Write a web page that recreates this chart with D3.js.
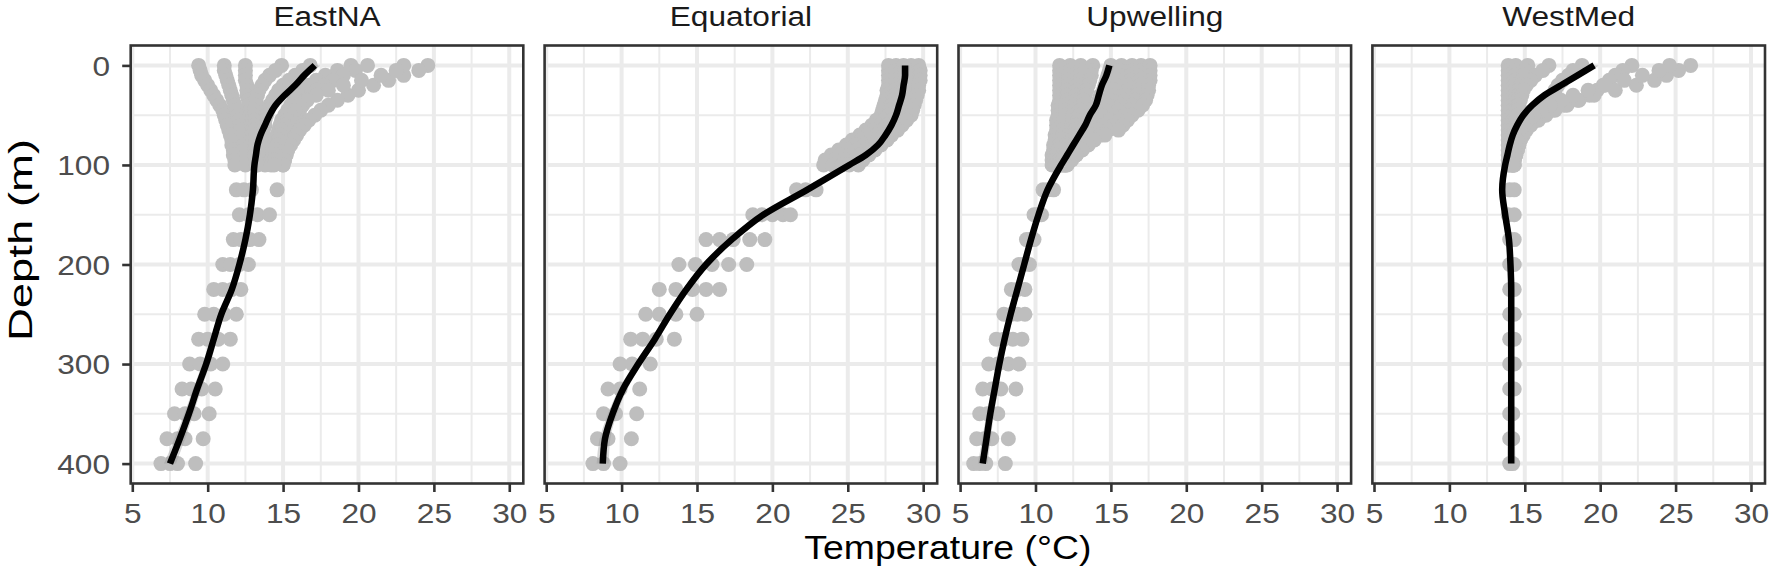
<!DOCTYPE html>
<html>
<head>
<meta charset="utf-8">
<script src="https://cdn.jsdelivr.net/npm/d3@7"></script>
<style>
  html, body { margin: 0; padding: 0; background: #ffffff; }
  svg { display: block; }
</style>
</head>
<body>
<svg id="chart" width="1772" height="583"></svg>
<script>
// ---------------- DATA ----------------
const regions = ["EastNA", "Equatorial", "Upwelling", "WestMed"];
const xTickValues = [5, 10, 15, 20, 25, 30];
const yTickValues = [0, 100, 200, 300, 400];
const xMinorValues = [7.5, 12.5, 17.5, 22.5, 27.5];
const yMinorValues = [50, 150, 250, 350];

const upperDepths = [0, 5, 10, 15, 20, 25, 30, 35, 40, 45, 50, 55, 60, 65, 70, 75, 80, 85, 90, 95, 100];
const deepDepths = [125, 150, 175, 200, 225, 250, 275, 300, 325, 350, 375, 400];
const lineDepths = [0, 10, 20, 30, 40, 50, 60, 70, 80, 90, 100, 125, 150, 175, 200, 225, 250, 275, 300, 325, 350, 375, 400];

// EastNA
const eastnaUpper = [
  [9.4, 9.5, 9.6, 9.8, 10.0, 10.2, 10.4, 10.6, 10.8, 11.0, 11.1, 11.2, 11.3, 11.4, 11.5, 11.6, 11.6, 11.7, 11.7, 11.8, 11.8],
  [11.1, 11.1, 11.2, 11.3, 11.4, 11.5, 11.6, 11.7, 11.8, 11.9, 12.0, 12.1, 12.2, 12.2, 12.3, 12.3, 12.4, 12.4, 12.5, 12.5, 12.5],
  [12.5, 12.5, 12.5, 12.5, 12.6, 12.6, 12.6, 12.7, 12.7, 12.8, 12.8, 12.9, 12.9, 13.0, 13.0, 13.0, 13.1, 13.1, 13.1, 13.2, 13.2],
  [14.9, 14.5, 14.1, 13.8, 13.6, 13.4, 13.3, 13.2, 13.2, 13.1, 13.1, 13.1, 13.1, 13.1, 13.2, 13.2, 13.2, 13.3, 13.3, 13.3, 13.3],
  [16.8, 16.3, 15.8, 15.4, 15.0, 14.7, 14.5, 14.3, 14.1, 14.0, 13.9, 13.8, 13.8, 13.7, 13.7, 13.7, 13.7, 13.7, 13.7, 13.7, 13.8],
  [19.5, 18.6, 17.8, 17.2, 16.7, 16.3, 16.0, 15.7, 15.5, 15.3, 15.1, 14.9, 14.8, 14.7, 14.6, 14.5, 14.4, 14.3, 14.3, 14.2, 14.2],
  [20.6, 19.8, 19.0, 18.3, 17.7, 17.2, 16.8, 16.5, 16.3, 16.1, 16.0, 15.9, 15.8, 15.7, 15.6, 15.5, 15.4, 15.3, 15.2, 15.1, 15.0],
  [24.6, 24.0, 23.0, 22.0, 21.0, 20.0, 19.3, 18.6, 18.0, 17.5, 17.1, 16.7, 16.4, 16.1, 15.9, 15.7, 15.5, 15.3, 15.2, 15.1, 15.0],
  [23.0, 22.5, 21.5, 20.2, 19.0, 18.0, 17.2, 16.6, 16.1, 15.8, 15.5, 15.3, 15.1, 14.9, 14.8, 14.7, 14.6, 14.5, 14.5, 14.4, 14.4]
];
const eastnaDeep = [
  [11.9, 12.4, 12.9, 14.6],
  [12.1, 12.7, 13.3, 14.1],
  [11.7, 12.2, 12.8, 13.4],
  [11.0, 11.5, 12.1, 12.7],
  [10.4, 11.0, 11.6, 12.2],
  [9.8, 10.4, 11.1, 11.9],
  [9.4, 10.0, 10.7, 11.5],
  [8.8, 9.5, 10.2, 11.0],
  [8.3, 8.9, 9.6, 10.5],
  [7.8, 8.5, 9.1, 10.1],
  [7.3, 8.0, 8.5, 9.7],
  [6.9, 7.5, 8.0, 9.2]
];
const eastnaLine = [17.1, 16.4, 15.8, 15.1, 14.5, 14.1, 13.8, 13.5, 13.3, 13.2, 13.1, 13.0, 12.8, 12.5, 12.1, 11.6, 10.9, 10.4, 9.9, 9.3, 8.75, 8.15, 7.5];
const eastnaBand = [0.35, 0.3, 0.25, 0.2, 0.2, 0.2, 0.2, 0.2, 0.2, 0.2, 0.2, 0.2, 0.2, 0.2, 0.2, 0.2, 0.2, 0.22, 0.25, 0.28, 0.3, 0.35, 0.4];

// Equatorial
const equatorialUpper = [
  [27.7, 27.7, 27.7, 27.7, 27.7, 27.6, 27.6, 27.5, 27.4, 27.3, 27.2, 26.9, 26.6, 26.2, 25.8, 25.3, 24.9, 24.4, 23.9, 23.5, 23.4],
  [28.2, 28.2, 28.2, 28.2, 28.2, 28.1, 28.1, 28.0, 27.9, 27.8, 27.7, 27.4, 27.1, 26.7, 26.3, 25.9, 25.5, 25.0, 24.5, 24.1, 24.0],
  [28.7, 28.8, 28.8, 28.8, 28.7, 28.7, 28.6, 28.5, 28.4, 28.3, 28.2, 27.9, 27.6, 27.3, 26.9, 26.5, 26.1, 25.6, 25.2, 24.8, 24.6],
  [29.2, 29.3, 29.3, 29.3, 29.2, 29.2, 29.1, 29.0, 28.9, 28.8, 28.7, 28.4, 28.1, 27.8, 27.4, 27.0, 26.6, 26.2, 25.8, 25.4, 25.1],
  [29.7, 29.8, 29.8, 29.8, 29.7, 29.7, 29.6, 29.5, 29.4, 29.3, 29.2, 28.9, 28.6, 28.3, 27.9, 27.6, 27.2, 26.8, 26.4, 26.0, 25.7]
];
const equatorialDeep = [
  [21.6, 22.2, 22.9],
  [18.7, 19.3, 20.0, 20.7, 21.2],
  [15.6, 16.5, 17.4, 18.5, 19.5],
  [13.8, 14.9, 16.0, 17.1, 18.3],
  [12.5, 13.6, 14.7, 15.6, 16.5],
  [11.6, 12.5, 13.6, 15.0],
  [10.6, 11.4, 12.3, 13.5],
  [9.9, 10.7, 11.9],
  [9.1, 9.9, 11.2],
  [8.8, 9.6, 11.0],
  [8.4, 9.1, 10.65],
  [8.1, 8.8, 9.9]
];
const equatorialLine = [28.8, 28.8, 28.7, 28.6, 28.4, 28.2, 27.9, 27.5, 27.0, 26.2, 25.1, 22.3, 19.4, 17.3, 15.6, 14.3, 13.2, 12.2, 11.1, 10.1, 9.4, 8.9, 8.75];
const equatorialBand = [0.3, 0.25, 0.2, 0.2, 0.2, 0.2, 0.2, 0.2, 0.2, 0.2, 0.2, 0.25, 0.25, 0.25, 0.25, 0.25, 0.25, 0.25, 0.25, 0.28, 0.3, 0.35, 0.4];

// Upwelling
const upwellingUpper = [
  [11.6, 11.6, 11.6, 11.6, 11.6, 11.6, 11.6, 11.6, 11.5, 11.5, 11.5, 11.4, 11.4, 11.4, 11.3, 11.3, 11.2, 11.2, 11.1, 11.1, 11.1],
  [12.3, 12.3, 12.2, 12.2, 12.2, 12.1, 12.1, 12.1, 12.0, 12.0, 12.0, 11.9, 11.9, 11.8, 11.8, 11.7, 11.6, 11.5, 11.4, 11.3, 11.3],
  [13.0, 13.0, 12.9, 12.9, 12.8, 12.8, 12.7, 12.7, 12.6, 12.6, 12.5, 12.5, 12.4, 12.3, 12.2, 12.1, 12.0, 11.9, 11.8, 11.6, 11.5],
  [13.8, 13.7, 13.7, 13.6, 13.5, 13.4, 13.3, 13.2, 13.1, 13.0, 12.9, 12.8, 12.7, 12.6, 12.5, 12.4, 12.2, 12.1, 12.0, 11.8, 11.7],
  [15.0, 14.9, 14.8, 14.7, 14.6, 14.5, 14.3, 14.2, 14.0, 13.9, 13.7, 13.5, 13.3, 13.1, 12.9, 12.7, 12.5, 12.3, 12.1, 11.9, 11.8],
  [15.7, 15.6, 15.6, 15.5, 15.4, 15.3, 15.2, 15.0, 14.8, 14.6, 14.4, 14.1, 13.8, 13.5, 13.2, 13.0, 12.7, 12.5, 12.3, 12.1, 11.9],
  [16.4, 16.4, 16.3, 16.3, 16.2, 16.1, 16.0, 15.9, 15.7, 15.5, 15.2, 14.9, 14.5, 14.1, 13.7, 13.3, 13.0, 12.7, 12.5, 12.2, 12.0],
  [17.0, 17.0, 17.0, 16.9, 16.9, 16.8, 16.7, 16.6, 16.4, 16.2, 15.9, 15.6, 15.2, 14.8, 14.3, 13.8, 13.4, 13.0, 12.7, 12.4, 12.1],
  [17.6, 17.6, 17.6, 17.6, 17.5, 17.5, 17.4, 17.3, 17.1, 16.8, 16.4, 16.1, 15.8, 15.5, 14.6, 13.9, 13.5, 13.1, 12.7, 12.3, 12.0]
];
const upwellingDeep = [
  [10.5, 10.8, 11.2],
  [9.9, 10.1, 10.4],
  [9.4, 9.6, 9.9],
  [8.9, 9.2, 9.6],
  [8.4, 8.8, 9.3],
  [7.9, 8.4, 8.8, 9.3],
  [7.4, 7.9, 8.5, 9.1],
  [6.9, 7.5, 8.2, 8.9],
  [6.5, 7.1, 7.7, 8.7],
  [6.3, 6.8, 7.5],
  [6.1, 6.6, 7.1, 8.2],
  [5.9, 6.3, 6.7, 8.0]
];
const upwellingLine = [14.9, 14.7, 14.4, 14.2, 14.0, 13.6, 13.3, 12.9, 12.5, 12.1, 11.7, 10.8, 10.2, 9.7, 9.25, 8.8, 8.35, 7.95, 7.6, 7.3, 7.0, 6.75, 6.5];
const upwellingBand = [0.3, 0.25, 0.2, 0.2, 0.2, 0.2, 0.2, 0.2, 0.2, 0.2, 0.2, 0.2, 0.2, 0.2, 0.2, 0.2, 0.2, 0.2, 0.2, 0.22, 0.25, 0.28, 0.32];

// WestMed
const westmedUpper = [
  [13.9, 13.9, 13.9, 13.9, 13.9, 13.9, 13.9, 13.9, 13.9, 13.9, 13.9, 13.9, 13.9, 13.9, 13.9, 13.9, 13.9, 13.9, 13.9, 13.9, 13.9],
  [14.4, 14.4, 14.4, 14.4, 14.3, 14.3, 14.3, 14.3, 14.2, 14.2, 14.2, 14.2, 14.1, 14.1, 14.1, 14.1, 14.0, 14.0, 14.0, 14.0, 14.0],
  [15.2, 15.0, 14.9, 14.8, 14.7, 14.6, 14.6, 14.5, 14.5, 14.4, 14.4, 14.3, 14.3, 14.3, 14.2, 14.2, 14.2, 14.1, 14.1, 14.1, 14.1],
  [16.6, 16.2, 15.7, 15.4, 15.1, 14.9, 14.8, 14.7, 14.6, 14.5, 14.5, 14.4, 14.4, 14.4, 14.3, 14.3, 14.3, 14.2, 14.2, 14.2, 14.2],
  [18.8, 18.2, 17.9, 17.5, 17.2, 17.0, 16.8, 16.5, 16.2, 15.9, 15.6, 15.3, 15.1, 14.9, 14.8, 14.7, 14.6, 14.5, 14.4, 14.3, 14.3],
  [22.1, 21.5, 21.0, 20.6, 20.2, 19.8, 19.3, 18.6, 17.8, 17.0, 16.4, 15.9, 15.4, 15.1, 14.9, 14.7, 14.6, 14.5, 14.4, 14.3, 14.3],
  [26.0, 25.2, 24.4, 23.6, 22.4, 21.0, 19.6, 18.5, 17.6, 16.8, 16.2, 15.7, 15.3, 15.0, 14.8, 14.7, 14.6, 14.5, 14.4, 14.3, 14.2],
  [24.6, 23.9, 22.8, 21.6, 20.3, 19.2, 18.2, 17.4, 16.7, 16.1, 15.6, 15.2, 14.9, 14.7, 14.6, 14.5, 14.4, 14.3, 14.3, 14.2, 14.2]
];
const westmedDeep = [
  [14.0, 14.3],
  [13.9, 14.3],
  [14.0, 14.3],
  [14.0, 14.3],
  [14.0, 14.3],
  [14.0, 14.3],
  [14.0, 14.3],
  [14.0, 14.3],
  [14.0, 14.3],
  [14.0, 14.2],
  [14.0, 14.2],
  [14.0, 14.2]
];
const westmedLine = [19.6, 18.5, 17.4, 16.3, 15.5, 14.9, 14.5, 14.2, 14.0, 13.85, 13.7, 13.5, 13.7, 13.95, 14.05, 14.1, 14.1, 14.1, 14.1, 14.1, 14.1, 14.1, 14.1];
const westmedBand = [0.3, 0.25, 0.2, 0.2, 0.2, 0.2, 0.2, 0.2, 0.2, 0.2, 0.2, 0.2, 0.2, 0.2, 0.2, 0.2, 0.2, 0.2, 0.2, 0.2, 0.22, 0.25, 0.28];

// ---------------- LAYOUT / STYLE ----------------
const FONT = "'Liberation Sans', Arial, Helvetica, sans-serif";
const panelW = 392.6;
const firstLeft = 130.7;
const panelStep = 413.9;
const panelTop = 45.5;
const panelBottom = 483.5;
const tickLen = 8.5;
const textSX = 1.15;     // horizontal stretch of text as in reference
const tickFont = 27.5;
const titleFont = 32.5;

const svg = d3.select("#chart");
svg.append("rect").attr("width", 1772).attr("height", 583).attr("fill", "#ffffff");

const x = d3.scaleLinear().domain([4.894, 30.93]).range([0, panelW]);
const y = d3.scaleLinear().domain([-20, 420]).range([panelTop, panelBottom]);

const panelData = [
  { upper: eastnaUpper, deep: eastnaDeep, line: eastnaLine, band: eastnaBand },
  { upper: equatorialUpper, deep: equatorialDeep, line: equatorialLine, band: equatorialBand },
  { upper: upwellingUpper, deep: upwellingDeep, line: upwellingLine, band: upwellingBand },
  { upper: westmedUpper, deep: westmedDeep, line: westmedLine, band: westmedBand }
];

const lineGen = d3.line()
  .x(d => x(d.t))
  .y(d => y(d.d))
  .curve(d3.curveMonotoneY);
const areaGen = d3.area()
  .x0(d => x(d.t - d.b))
  .x1(d => x(d.t + d.b))
  .y(d => y(d.d))
  .curve(d3.curveMonotoneY);

function stretchText(sel, sx) {
  sel.each(function () {
    const t = d3.select(this);
    const tx = +t.attr("x") || 0;
    const ty = +t.attr("y") || 0;
    t.attr("x", 0).attr("y", 0)
     .attr("transform", `translate(${tx},${ty}) scale(${sx},1)`);
  });
}

regions.forEach((name, i) => {
  const left = firstLeft + i * panelStep;
  const pd = panelData[i];
  const g = svg.append("g").attr("transform", `translate(${left},0)`);

  g.append("rect").attr("x", 0).attr("y", panelTop)
    .attr("width", panelW).attr("height", panelBottom - panelTop)
    .attr("fill", "#ffffff");

  // minor grid
  g.append("g").selectAll("line").data(xMinorValues).join("line")
    .attr("x1", d => x(d)).attr("x2", d => x(d))
    .attr("y1", panelTop).attr("y2", panelBottom)
    .attr("stroke", "#EBEBEB").attr("stroke-width", 2);
  g.append("g").selectAll("line").data(yMinorValues).join("line")
    .attr("x1", 0).attr("x2", panelW)
    .attr("y1", d => y(d)).attr("y2", d => y(d))
    .attr("stroke", "#EBEBEB").attr("stroke-width", 2);
  // major grid
  g.append("g").selectAll("line").data(xTickValues).join("line")
    .attr("x1", d => x(d)).attr("x2", d => x(d))
    .attr("y1", panelTop).attr("y2", panelBottom)
    .attr("stroke", "#EBEBEB").attr("stroke-width", 4);
  g.append("g").selectAll("line").data(yTickValues).join("line")
    .attr("x1", 0).attr("x2", panelW)
    .attr("y1", d => y(d)).attr("y2", d => y(d))
    .attr("stroke", "#EBEBEB").attr("stroke-width", 4);

  // points
  const pts = [];
  pd.upper.forEach(profile => profile.forEach((t, j) => pts.push({ t, d: upperDepths[j] })));
  pd.deep.forEach((row, k) => row.forEach(t => pts.push({ t, d: deepDepths[k] })));
  g.append("g").selectAll("circle").data(pts).join("circle")
    .attr("cx", d => x(d.t)).attr("cy", d => y(d.d)).attr("r", 7.5)
    .attr("fill", "#BEBEBE");

  // smooth fit + ribbon
  const fit = lineDepths.map((d, k) => ({ d, t: pd.line[k], b: pd.band[k] }));
  g.append("path").datum(fit).attr("d", areaGen)
    .attr("fill", "#999999").attr("fill-opacity", 0.4);
  g.append("path").datum(fit).attr("d", lineGen)
    .attr("fill", "none").attr("stroke", "#000000").attr("stroke-width", 6.5);

  // border
  g.append("rect").attr("x", 0).attr("y", panelTop)
    .attr("width", panelW).attr("height", panelBottom - panelTop)
    .attr("fill", "none").attr("stroke", "#333333").attr("stroke-width", 2.6);

  // x axis
  const xAxis = g.append("g").attr("transform", `translate(0,${panelBottom})`)
    .call(d3.axisBottom(x).tickValues(xTickValues).tickSize(tickLen).tickSizeOuter(0));
  xAxis.select(".domain").remove();
  xAxis.selectAll(".tick line").attr("stroke", "#333333").attr("stroke-width", 2.6);
  xAxis.selectAll(".tick text")
    .attr("y", 523 - panelBottom).attr("dy", 0)
    .attr("fill", "#4D4D4D").style("font-family", FONT).style("font-size", tickFont + "px")
    .attr("text-anchor", "middle")
    .call(stretchText, textSX);

  // strip title
  g.append("text")
    .attr("x", panelW / 2).attr("y", 26)
    .attr("text-anchor", "middle")
    .attr("fill", "#1A1A1A").style("font-family", FONT).style("font-size", tickFont + "px")
    .text(name)
    .call(stretchText, textSX);

  // y axis on the first panel only
  if (i === 0) {
    const yAxis = g.append("g")
      .call(d3.axisLeft(y).tickValues(yTickValues).tickSize(tickLen).tickSizeOuter(0));
    yAxis.select(".domain").remove();
    yAxis.selectAll(".tick line").attr("stroke", "#333333").attr("stroke-width", 2.6);
    yAxis.selectAll(".tick text")
      .attr("x", -(left - 110)).attr("dy", "0.36em")
      .attr("fill", "#4D4D4D").style("font-family", FONT).style("font-size", tickFont + "px")
      .attr("text-anchor", "end")
      .call(stretchText, textSX);
  }
});

// axis titles
const xCenter = firstLeft + (3 * panelStep + panelW) / 2;
svg.append("text")
  .attr("transform", `translate(${xCenter},558.5) scale(${textSX},1)`)
  .attr("text-anchor", "middle")
  .attr("fill", "#000000").style("font-family", FONT).style("font-size", titleFont + "px")
  .text("Temperature (°C)");

svg.append("text")
  .attr("transform", `translate(31.5,240) rotate(-90) scale(1.4,1)`)
  .attr("text-anchor", "middle")
  .attr("fill", "#000000").style("font-family", FONT).style("font-size", titleFont + "px")
  .text("Depth (m)");
</script>
</body>
</html>
